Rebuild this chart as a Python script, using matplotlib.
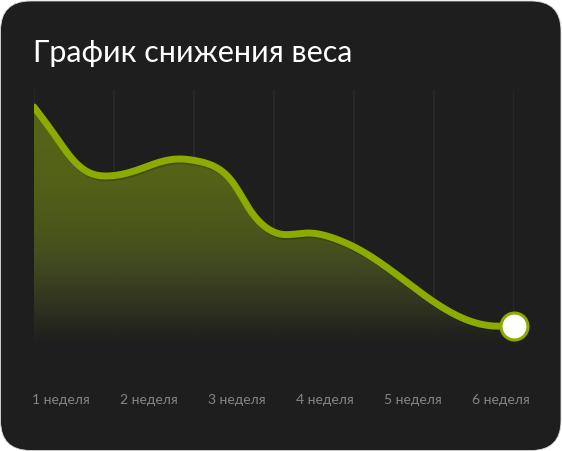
import numpy as np
import matplotlib
matplotlib.use("Agg")
import matplotlib.pyplot as plt
from matplotlib.patches import FancyBboxPatch
import matplotlib.patheffects as pe

plt.rcParams['font.family'] = ['Lato', 'DejaVu Sans']

# data (x in grid steps, y in px-like units above the baseline)
title = "График снижения веса"
week_labels = ["1 неделя", "2 неделя", "3 неделя", "4 неделя", "5 неделя", "6 неделя"]
x_pts = [0, 0.24, 0.49, 0.7, 0.91, 1.29, 1.575, 1.8, 2.04, 2.29, 2.49, 2.7, 2.91,
         3.075, 3.41, 3.74, 4.075, 4.49, 4.91, 5.325, 5.74, 6.0]
y_pts = [238, 212, 185, 172, 169, 175, 183, 186, 184, 177, 162, 135, 117,
         111, 112, 107, 95, 73, 48, 28, 19, 19.5]

W, H = 562, 451
bg = '#1e1e1e'
green = '#8bab00'


def smooth(xs, ys, n=400):
    # natural cubic spline through the read points, only for drawing
    xs = np.asarray(xs, float)
    ys = np.asarray(ys, float)
    k = len(xs)
    h = np.diff(xs)
    A = np.zeros((k, k))
    b = np.zeros(k)
    A[0, 0] = A[-1, -1] = 1
    for i in range(1, k - 1):
        A[i, i - 1] = h[i - 1]
        A[i, i] = 2 * (h[i - 1] + h[i])
        A[i, i + 1] = h[i]
        b[i] = 6 * ((ys[i + 1] - ys[i]) / h[i] - (ys[i] - ys[i - 1]) / h[i - 1])
    M = np.linalg.solve(A, b)
    xx = np.linspace(xs[0], xs[-1], n)
    j = np.clip(np.searchsorted(xs, xx) - 1, 0, k - 2)
    dx1 = xs[j + 1] - xx
    dx0 = xx - xs[j]
    hj = h[j]
    yy = (M[j] * dx1**3 + M[j + 1] * dx0**3) / (6 * hj) \
        + (ys[j] / hj - M[j] * hj / 6) * dx1 + (ys[j + 1] / hj - M[j + 1] * hj / 6) * dx0
    return xx, yy


fig = plt.figure(figsize=(W / 100, H / 100), dpi=100)
fig.patch.set_facecolor('white')

# card background
bgax = fig.add_axes([0, 0, 1, 1])
bgax.set_xlim(0, W)
bgax.set_ylim(0, H)
bgax.axis('off')
bgax.add_patch(FancyBboxPatch((0.5, 0.5), W - 1.5, H - 1.5,
                              boxstyle="round,pad=0,rounding_size=30",
                              fc=bg, ec='#d8d8d8', lw=0.6))

fig.text(33 / W, 1 - 62 / H, title, color='white', fontsize=22, va='baseline', ha='left')

ax = fig.add_axes([34 / W, 1 - 345 / H, 480 / W, 255 / H])
ax.set_xlim(0, 6)
ax.set_ylim(0, 255)
ax.axis('off')

# vertical grid
for gx in range(7):
    ax.axvline(gx, color='#2a2a2a', lw=1.2, zorder=1)

sx, sy = smooth(x_pts, y_pts)

# gradient fill under curve
stops_y = [0, 12, 45, 78, 112, 170, 255]
stops_c = np.array([(30, 30, 30), (36, 36, 31), (52, 55, 33), (66, 74, 33),
                    (76, 88, 27), (86, 101, 24), (88, 104, 24)]) / 255.0
yy = np.linspace(0, 255, 256)
grad = np.zeros((256, 1, 4))
for k in range(3):
    grad[:, 0, k] = np.interp(yy, stops_y, stops_c[:, k])
grad[:, 0, 3] = 0.97
poly = ax.fill_between(sx, 0, sy, color='none', lw=0)
img = ax.imshow(grad, extent=[0, 6, 0, 255], origin='lower', aspect='auto', zorder=2)
img.set_clip_path(poly.get_paths()[0], transform=ax.transData)

ax.plot(sx, sy, color=green, lw=5.0, solid_capstyle='round', zorder=3,
        path_effects=[pe.SimpleLineShadow(offset=(0.8, -1.2), shadow_color='black', alpha=0.2),
                      pe.Normal()])
ax.plot([x_pts[-1]], [y_pts[-1]], 'o', ms=19.4, mfc='white', mec=green, mew=2.2,
        zorder=4, clip_on=False)

# week labels spread evenly under the chart
label_x = 0.3375 + 1.1 * np.arange(len(week_labels))
for lx, lab in zip(label_x, week_labels):
    ax.text(lx, -59, lab, color='#858585', fontsize=10, ha='center', va='baseline')

fig.savefig('out.png', dpi=100, facecolor=fig.get_facecolor())
